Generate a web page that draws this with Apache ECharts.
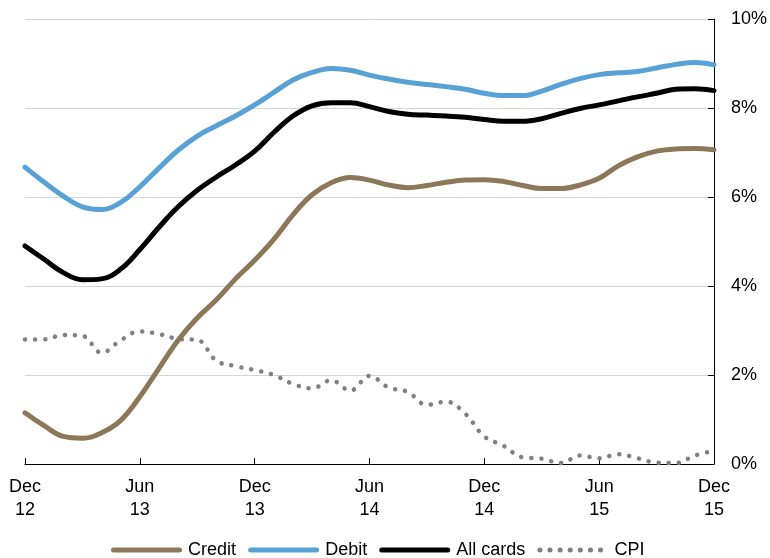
<!DOCTYPE html>
<html>
<head>
<meta charset="utf-8">
<script src="https://cdn.jsdelivr.net/npm/echarts@6/dist/echarts.min.js"></script>
<style>
html,body{margin:0;padding:0;background:#fff;}
#chart{width:770px;height:558px;}
</style>
</head>
<body>
<div id="chart"></div>
<script>
const months = [
  'Dec\n12','Jan\n13','Feb\n13','Mar\n13','Apr\n13','May\n13','Jun\n13','Jul\n13','Aug\n13','Sep\n13','Oct\n13','Nov\n13',
  'Dec\n13','Jan\n14','Feb\n14','Mar\n14','Apr\n14','May\n14','Jun\n14','Jul\n14','Aug\n14','Sep\n14','Oct\n14','Nov\n14',
  'Dec\n14','Jan\n15','Feb\n15','Mar\n15','Apr\n15','May\n15','Jun\n15','Jul\n15','Aug\n15','Sep\n15','Oct\n15','Nov\n15',
  'Dec\n15'
];
const credit = [1.15,0.86,0.62,0.58,0.70,0.98,1.51,2.15,2.78,3.28,3.69,4.16,
  4.58,5.05,5.60,6.05,6.32,6.44,6.38,6.27,6.21,6.26,6.33,6.38,
  6.39,6.35,6.26,6.19,6.19,6.27,6.42,6.70,6.90,7.03,7.08,7.09,7.06];
const debit = [6.67,6.33,6.02,5.78,5.72,5.88,6.23,6.65,7.05,7.37,7.60,7.82,
  8.07,8.35,8.63,8.80,8.89,8.85,8.74,8.65,8.58,8.53,8.48,8.42,
  8.33,8.28,8.28,8.38,8.53,8.66,8.75,8.79,8.82,8.90,8.98,9.02,8.97];
const allCards = [4.90,4.60,4.30,4.14,4.16,4.38,4.82,5.32,5.78,6.15,6.45,6.72,
  7.03,7.45,7.82,8.05,8.12,8.12,8.03,7.92,7.86,7.84,7.82,7.79,
  7.74,7.70,7.70,7.76,7.88,7.99,8.07,8.16,8.25,8.33,8.42,8.43,8.39];
const cpi = [2.80,2.80,2.90,2.88,2.50,2.78,2.98,2.92,2.81,2.79,2.32,2.20,
  2.11,2.00,1.80,1.70,1.88,1.65,1.98,1.72,1.62,1.33,1.40,1.13,
  0.62,0.41,0.15,0.12,0.02,0.19,0.13,0.22,0.13,0.03,0.02,0.19,0.30];
const yTicks = [0, 2, 4, 6, 8, 10];

const font = 'Liberation Sans, Arial, sans-serif';
const chart = echarts.init(document.getElementById('chart'));
const lineW = 5;
chart.setOption({
  animation: false,
  textStyle: {fontFamily: font},
  grid: {left: 25, right: 55, top: 19, bottom: 94, containLabel: false},
  legend: {
    top: 536, left: 106, itemWidth: 66, itemHeight: 10, itemGap: 12,
    textStyle: {fontSize: 18, color: '#000', fontFamily: font},
    formatter: name => '\u2009' + name,
    itemStyle: {opacity: 0},
    lineStyle: {width: 5, cap: 'round'},
    data: ['Credit', 'Debit', 'All cards', 'CPI']
  },
  xAxis: {
    type: 'category', data: months, boundaryGap: false,
    axisLine: {lineStyle: {color: '#000', width: 1}},
    axisTick: {inside: true, length: 6, interval: 5, lineStyle: {color: '#000'}},
    axisLabel: {interval: 5, fontSize: 18, color: '#000', lineHeight: 23, margin: 12, fontFamily: font},
    splitLine: {show: false}
  },
  yAxis: {
    type: 'value', position: 'right', min: yTicks[0], max: yTicks[yTicks.length - 1], interval: 2,
    axisLine: {show: true, lineStyle: {color: '#000', width: 1}},
    axisTick: {show: true, inside: true, length: 6, lineStyle: {color: '#000'}},
    axisLabel: {fontSize: 18, color: '#000', margin: 17, fontFamily: font, formatter: v => v + '%'},
    splitLine: {show: true, lineStyle: {color: '#d4d4d4', width: 1}}
  },
  series: [
    {name: 'Credit', type: 'line', data: credit, smooth: 0.4, symbol: 'none', z: 3,
     lineStyle: {color: '#8c7759', width: lineW, cap: 'round'}, itemStyle: {color: '#8c7759'}},
    {name: 'Debit', type: 'line', data: debit, smooth: 0.4, symbol: 'none', z: 3,
     lineStyle: {color: '#58a1d4', width: lineW, cap: 'round'}, itemStyle: {color: '#58a1d4'}},
    {name: 'All cards', type: 'line', data: allCards, smooth: 0.4, symbol: 'none', z: 4,
     lineStyle: {color: '#000000', width: lineW, cap: 'round'}, itemStyle: {color: '#000000'}},
    {name: 'CPI', type: 'line', data: cpi, smooth: 0.4, symbol: 'none', z: 2,
     lineStyle: {color: '#808080', width: 4.5, type: [0.1, 10], cap: 'round'}, itemStyle: {color: '#808080'}}
  ]
});
</script>
</body>
</html>
